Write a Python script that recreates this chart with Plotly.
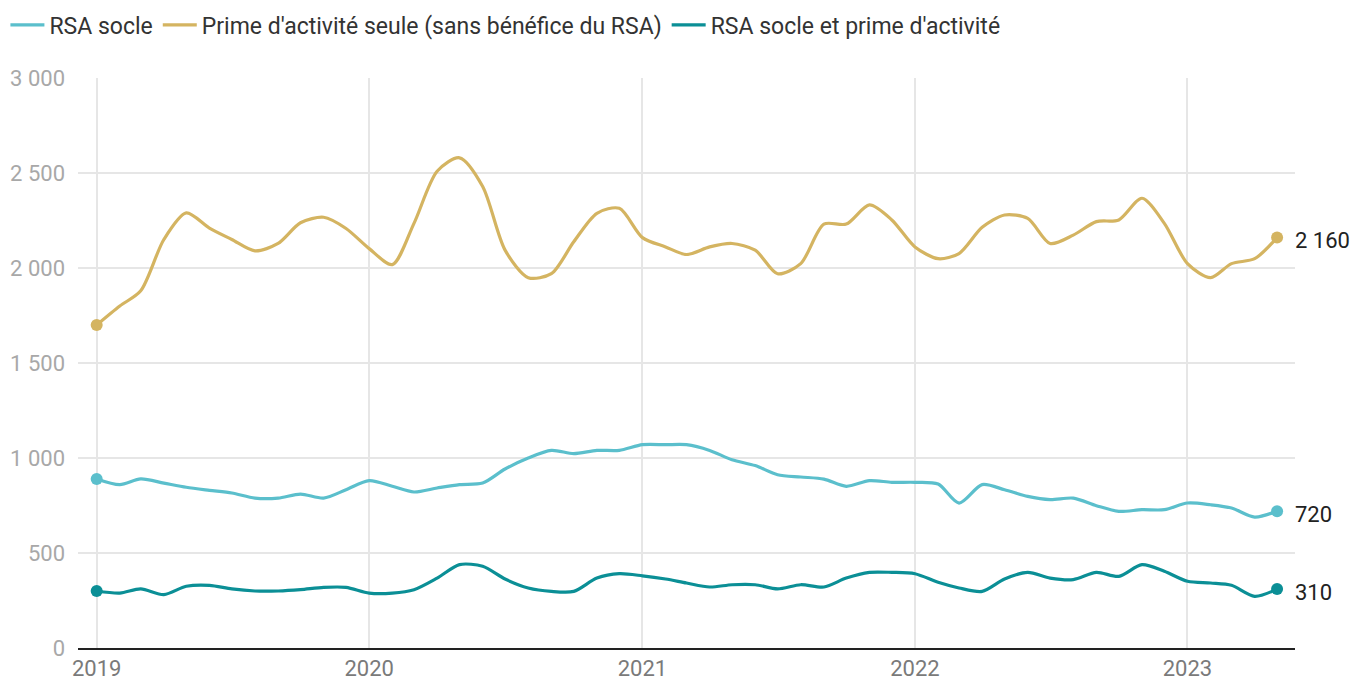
import pandas as pd
import plotly.graph_objects as go

months = pd.date_range("2019-01-01", "2023-05-01", freq="MS")

rsa_socle = [890, 860, 890, 868, 846, 830, 816, 789, 789, 810, 789, 833,
             881, 851, 821, 842, 860, 868, 942, 1000, 1040, 1023, 1040, 1040,
             1070, 1070, 1070, 1040, 991, 960, 912, 900, 889, 851, 881, 872,
             872, 863, 763, 860, 833, 798, 781, 789, 749, 719, 728, 728,
             763, 754, 737, 689, 720]

prime_seule = [1700, 1800, 1880, 2150, 2290, 2210, 2150, 2090, 2129, 2238, 2267, 2208,
               2102, 2018, 2235, 2509, 2580, 2429, 2094, 1949, 1970, 2138, 2288, 2314,
               2160, 2111, 2071, 2111, 2129, 2094, 1970, 2023, 2231, 2231, 2332, 2253,
               2111, 2049, 2076, 2214, 2279, 2261, 2129, 2173, 2244, 2253, 2367, 2235,
               2023, 1949, 2023, 2049, 2160]

rsa_et_prime = [300, 289, 311, 281, 325, 330, 311, 300, 300, 307, 319, 319,
                289, 289, 307, 368, 439, 430, 363, 316, 298, 298, 368, 391,
                380, 363, 342, 321, 333, 333, 311, 333, 321, 368, 398, 398,
                391, 346, 316, 298, 363, 398, 368, 360, 398, 377, 439, 404,
                351, 342, 330, 272, 310]

series_names = ["RSA socle", "Prime d'activité seule (sans bénéfice du RSA)",
                "RSA socle et prime d'activité"]
series_values = [rsa_socle, prime_seule, rsa_et_prime]
colors = ["#5bbfcc", "#d4b461", "#0b8f96"]
end_labels = ["720", "2 160", "310"]

year_ticks = ["2019-01-01", "2020-01-01", "2021-01-01", "2022-01-01", "2023-01-01"]
year_labels = ["2019", "2020", "2021", "2022", "2023"]

fig = go.Figure()
for name, vals, col in zip(series_names, series_values, colors):
    fig.add_trace(go.Scatter(
        x=months, y=vals, name=name, mode="lines",
        line=dict(color=col, width=3.2, shape="spline", smoothing=0.8),
        hoverinfo="x+y",
    ))
    fig.add_trace(go.Scatter(
        x=[months[0], months[-1]], y=[vals[0], vals[-1]], mode="markers",
        marker=dict(color=col, size=12), showlegend=False, hoverinfo="skip",
    ))

for vals, lab in zip(series_values, end_labels):
    fig.add_annotation(x=months[-1], y=vals[-1], text=lab, showarrow=False,
                       xanchor="left", xshift=16, yshift=-3,
                       font=dict(size=22, color="#222222", family="Roboto"))

fig.update_layout(
    width=1354, height=683,
    margin=dict(l=78, r=59, t=78, b=35, autoexpand=False),
    paper_bgcolor="white", plot_bgcolor="white",
    separators=", ",
    font=dict(family="Roboto", size=22, color="#333333"),
    legend=dict(orientation="h", xref="container", yref="container",
                x=0.004, y=0.995, xanchor="left", yanchor="top",
                font=dict(size=23, color="#333333"), itemwidth=34,
                tracegroupgap=0),
    showlegend=True,
)
fig.update_xaxes(
    range=["2018-12-07", "2023-05-25"],
    tickvals=year_ticks, ticktext=year_labels,
    showgrid=True, gridcolor="#e6e6e6", gridwidth=1.5,
    tickfont=dict(size=22, color="#7a7a7a"),
    showline=True, linecolor="#222222", linewidth=2,
    ticks="", zeroline=False, automargin=False,
)
fig.update_yaxes(
    range=[0, 3000], tickvals=[0, 500, 1000, 1500, 2000, 2500, 3000],
    tickformat=",d",
    showgrid=True, gridcolor="#e6e6e6", gridwidth=1.5,
    tickfont=dict(size=22, color="#a8a8a8"),
    zeroline=False, showline=False, ticks="", ticklabelstandoff=12,
    automargin=False,
)

fig.write_html(
    "out.html",
    config={"displayModeBar": False},
    post_script="document.body.style.margin='0';document.body.style.overflow='hidden';",
)
